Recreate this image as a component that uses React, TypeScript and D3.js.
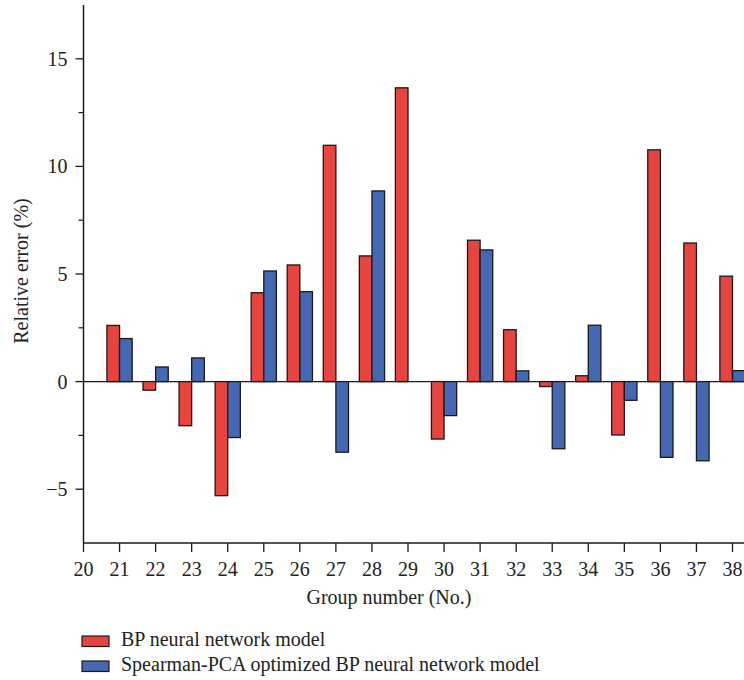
import React from "react";
import * as d3 from "d3";

const groups = [21, 22, 23, 24, 25, 26, 27, 28, 29, 30, 31, 32, 33, 34, 35, 36, 37, 38];
const bpValues = [2.61, -0.4, -2.05, -5.3, 4.13, 5.42, 10.98, 5.84, 13.65, -2.67, 6.57, 2.41, -0.23, 0.27, -2.48, 10.77, 6.44, 4.9];
const pcaValues = [2.0, 0.68, 1.1, -2.6, 5.14, 4.18, -3.28, 8.86, 0, -1.58, 6.12, 0.5, -3.12, 2.62, -0.87, -3.52, -3.68, 0.51];
const xTicks = [20, 21, 22, 23, 24, 25, 26, 27, 28, 29, 30, 31, 32, 33, 34, 35, 36, 37, 38];
const yMajorTicks = [-5, 0, 5, 10, 15];
const yMinorTicks = [-2.5, 2.5, 7.5, 12.5];
const seriesNames = ["BP neural network model", "Spearman-PCA optimized BP neural network model"];
const seriesColors = ["#E8443F", "#4468B3"];

const FONT = "'Liberation Serif', 'DejaVu Serif', serif";
const FS = 20;

export default function App() {
  const W = 744, H = 680;
  const left = 83.5, right = 732.5;
  const x = d3.scaleLinear().domain([20, 38]).range([left, right]);
  const y = d3.scaleLinear().domain([-7.5, 17.5]).range([543, 5]);
  const unit = x(21) - x(20);
  const bw = unit * 0.35;
  const stroke = "#1a1a1a";
  const fmt = (v: number) => (v < 0 ? "\u2212" + Math.abs(v) : String(v));

  return (
    <svg width={W} height={H} style={{ position: "absolute", left: 0, top: 0, background: "#fff" }}>
      <line x1={left} x2={W} y1={y(0)} y2={y(0)} stroke={stroke} strokeWidth={1.3} />
      {groups.map((g, i) => {
        const v = bpValues[i];
        return (
          <rect key={"bp" + g} x={x(g) - bw} width={bw}
            y={Math.min(y(v), y(0))} height={Math.abs(y(v) - y(0))}
            fill={seriesColors[0]} stroke={stroke} strokeWidth={1.3} />
        );
      })}
      {groups.map((g, i) => {
        const v = pcaValues[i];
        if (v === 0) return null;
        return (
          <rect key={"pca" + g} x={x(g)} width={bw}
            y={Math.min(y(v), y(0))} height={Math.abs(y(v) - y(0))}
            fill={seriesColors[1]} stroke={stroke} strokeWidth={1.3} />
        );
      })}
      <line x1={left} x2={left} y1={y(17.5)} y2={y(-7.5)} stroke={stroke} strokeWidth={1.5} />
      {yMajorTicks.map((t) => (
        <g key={"ym" + t}>
          <line x1={left - 8} x2={left} y1={y(t)} y2={y(t)} stroke={stroke} strokeWidth={1.3} />
          <text x={left - 16} y={y(t)} dy="0.35em" textAnchor="end" fontFamily={FONT} fontSize={FS} fill="#222">
            {fmt(t)}
          </text>
        </g>
      ))}
      {yMinorTicks.map((t) => (
        <line key={"yn" + t} x1={left - 5} x2={left} y1={y(t)} y2={y(t)} stroke={stroke} strokeWidth={1.2} />
      ))}
      <line x1={left} x2={W} y1={y(-7.5)} y2={y(-7.5)} stroke={stroke} strokeWidth={1.5} />
      {xTicks.map((t) => (
        <g key={"x" + t}>
          <line x1={x(t)} x2={x(t)} y1={y(-7.5)} y2={y(-7.5) + 9} stroke={stroke} strokeWidth={1.3} />
          <text x={x(t)} y={576} textAnchor="middle" fontFamily={FONT} fontSize={FS} fill="#222">
            {t}
          </text>
        </g>
      ))}
      <text x={389} y={604} textAnchor="middle" fontFamily={FONT} fontSize={FS} fill="#222">
        Group number (No.)
      </text>
      <text transform={`translate(28, ${y(5) - 3}) rotate(-90)`} textAnchor="middle" fontFamily={FONT} fontSize={FS} fill="#222">
        Relative error (%)
      </text>
      {seriesNames.map((name, i) => (
        <g key={name}>
          <rect x={82} y={636 + i * 25} width={27} height={10.5} fill={seriesColors[i]} stroke={stroke} strokeWidth={1.2} />
          <text x={121} y={646 + i * 25} fontFamily={FONT} fontSize={FS} fill="#222">
            {name}
          </text>
        </g>
      ))}
    </svg>
  );
}
